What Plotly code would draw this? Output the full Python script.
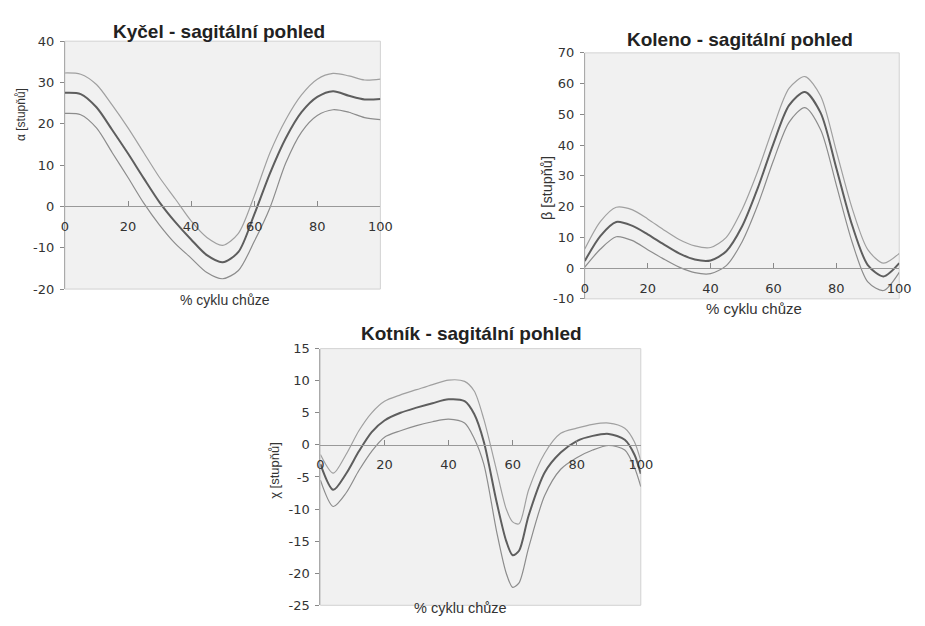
import plotly.graph_objects as go

# ---------------- data ----------------
hip_x = [0, 5, 10, 15, 20, 25, 30, 35, 40, 45, 50, 55, 60, 65, 70, 75, 80, 85, 90, 95, 100]
hip_mean = [27.5, 27.2, 24.0, 18.5, 12.8, 6.8, 1.0, -3.8, -8.0, -11.8, -13.5, -11.0, -2.0, 8.0, 16.5, 22.8, 26.5, 27.9, 26.8, 25.9, 26.0]
hip_upper = [32.3, 32.0, 29.5, 24.5, 19.0, 13.0, 7.0, 1.8, -3.5, -7.5, -9.4, -6.5, 2.5, 13.0, 21.0, 27.0, 30.8, 32.2, 31.6, 30.6, 30.8]
hip_lower = [22.5, 22.2, 19.0, 13.0, 7.0, 0.8, -4.5, -9.0, -12.5, -16.0, -17.5, -15.5, -8.5, -0.3, 10.5, 18.0, 22.0, 23.4, 22.8, 21.5, 21.0]

knee_x = [0, 5, 10, 15, 20, 25, 30, 35, 40, 45, 50, 55, 60, 65, 70, 75, 80, 85, 90, 95, 100]
knee_mean = [2.3, 10.5, 15.0, 13.8, 11.0, 7.8, 4.8, 2.8, 2.5, 5.5, 13.5, 26.0, 40.5, 53.0, 57.3, 50.5, 32.5, 14.0, 1.0, -2.7, 1.6]
knee_upper = [6.2, 15.2, 19.8, 19.0, 16.0, 12.5, 9.3, 7.2, 6.7, 10.0, 19.0, 31.5, 46.0, 58.5, 62.3, 56.0, 38.0, 19.5, 6.0, 1.6, 4.8]
knee_lower = [0.3, 6.2, 10.2, 9.0, 6.0, 3.0, 0.3, -1.5, -1.8, 0.8, 8.5, 20.5, 35.0, 47.5, 52.2, 45.0, 27.0, 8.5, -4.5, -7.3, -1.4]

ankle_x = [0, 4, 8, 12, 16, 20, 25, 30, 35, 40, 45, 48, 51, 55, 58, 60, 62, 65, 70, 75, 80, 85, 90, 95, 98, 100]
ankle_mean = [-3.0, -7.0, -4.5, -1.0, 2.0, 3.8, 5.0, 5.8, 6.5, 7.1, 6.8, 4.8, 0.5, -8.9, -15.0, -17.2, -16.5, -11.0, -4.3, -1.2, 0.6, 1.4, 1.7, 0.8, -1.5, -4.5]
ankle_upper = [-1.5, -4.4, -1.5, 2.2, 5.0, 6.8, 7.8, 8.6, 9.4, 10.1, 9.9, 8.4, 4.0, -4.0, -10.0, -12.0, -12.3, -7.0, -1.3, 1.8, 2.6, 3.2, 3.4, 2.6, 0.5, -2.5]
ankle_lower = [-5.5, -9.6, -7.5, -4.0, -1.0, 1.2, 2.2, 3.0, 3.6, 4.0, 3.4, 1.0, -3.0, -13.5, -20.0, -22.2, -21.5, -16.0, -7.9, -3.8, -2.0, -0.8, -0.1, -0.8, -3.5, -6.5]

x_ticks = [0, 20, 40, 60, 80, 100]
hip_y_ticks = [-20, -10, 0, 10, 20, 30, 40]
knee_y_ticks = [-10, 0, 10, 20, 30, 40, 50, 60, 70]
ankle_y_ticks = [-25, -20, -15, -10, -5, 0, 5, 10, 15]
titles = ["Kyčel - sagitální pohled", "Koleno - sagitální pohled", "Kotník - sagitální pohled"]
y_titles = ["α [stupňů]", "β [stupňů]", "χ [stupňů]"]
x_title = "% cyklu chůze"

# ---------------- layout geometry (pixels) ----------------
W, H = 925, 626
boxes = [(62, 383, 35, 289), (591, 911, 47, 299), (322, 648, 350, 613)]
yticks = [hip_y_ticks, knee_y_ticks, ankle_y_ticks]
title_pos = [(219, 25), (749, 33), (476, 335)]
ytitle_pos = [(18, 110), (552, 185), (275, 475)]
ytitle_size = [12, 14.5, 13]
xtitle_pos = [(225, 300), (763, 309), (465, 616)]
xtitle_size = [14, 15, 14.5]

series = [(hip_x, hip_mean, hip_upper, hip_lower),
          (knee_x, knee_mean, knee_upper, knee_lower),
          (ankle_x, ankle_mean, ankle_upper, ankle_lower)]

fig = go.Figure()
annotations = []
shapes = []

for i, ((xs, m, u, l), (x0, x1, yt, yb), yt_vals) in enumerate(zip(series, boxes, yticks)):
    n = "" if i == 0 else str(i + 1)
    xa, ya = "x" + n, "y" + n
    ymin, ymax = yt_vals[0], yt_vals[-1]
    dom_x = [x0 / W, x1 / W]
    dom_y = [1 - yb / H, 1 - yt / H]
    zero_pos = dom_y[0] + (0 - ymin) / (ymax - ymin) * (dom_y[1] - dom_y[0])
    for vals, col, wid in ((u, "#a0a0a0", 1.2), (l, "#8c8c8c", 1.2), (m, "#5e5e5e", 2.0)):
        fig.add_trace(go.Scatter(x=xs, y=vals, mode="lines", xaxis=xa, yaxis=ya,
                                 line=dict(color=col, width=wid, shape="spline", smoothing=0.8),
                                 showlegend=False, hoverinfo="skip"))
    fig.layout["xaxis" + n] = dict(domain=dom_x, range=[0, 100], anchor="free", position=zero_pos,
                                   tickvals=x_ticks, ticktext=[str(v) for v in x_ticks],
                                   ticks="inside", ticklen=5, tickcolor="#888888",
                                   showline=True, linecolor="#999999", linewidth=1, showgrid=False,
                                   zeroline=False, tickfont=dict(family="DejaVu Sans", size=13, color="#333333"),
                                   ticklabelstandoff=8, ticklabeloverflow="allow", fixedrange=True)
    fig.layout["yaxis" + n] = dict(domain=dom_y, range=[ymin, ymax], anchor=xa,
                                   tickvals=yt_vals, ticktext=[str(v) for v in yt_vals],
                                   ticks="outside", ticklen=4, tickcolor="#888888",
                                   showline=True, linecolor="#aaaaaa", linewidth=1, showgrid=False,
                                   zeroline=False, tickfont=dict(family="DejaVu Sans", size=13, color="#333333"),
                                   ticklabelstandoff=3, fixedrange=True)
    shapes.append(dict(type="rect", xref=xa + " domain", yref=ya + " domain", x0=0, x1=1, y0=0, y1=1,
                       line=dict(color="#d2d2d2", width=1), layer="below"))
    tx, ty = title_pos[i]
    annotations.append(dict(text="<b>" + titles[i] + "</b>", x=tx / W, y=1 - ty / H, xref="paper", yref="paper",
                            showarrow=False, xanchor="center", yanchor="middle",
                            font=dict(family="Liberation Sans", size=19, color="#222222")))
    yx, yy = ytitle_pos[i]
    annotations.append(dict(text=y_titles[i], x=yx / W, y=1 - yy / H, xref="paper", yref="paper",
                            showarrow=False, xanchor="center", yanchor="middle", textangle=-90,
                            font=dict(family="Liberation Sans", size=ytitle_size[i], color="#333333")))
    xx, xy = xtitle_pos[i]
    annotations.append(dict(text=x_title, x=xx / W, y=1 - xy / H, xref="paper", yref="paper",
                            showarrow=False, xanchor="center", yanchor="middle",
                            font=dict(family="Liberation Sans", size=xtitle_size[i], color="#333333")))

fig.update_layout(width=W, height=H, margin=dict(l=0, r=0, t=0, b=0),
                  paper_bgcolor="white", plot_bgcolor="#f1f1f1",
                  annotations=annotations, shapes=shapes, showlegend=False)

fig.write_html("out.html", config={"displayModeBar": False},
               post_script="document.body.style.margin='0';document.documentElement.style.overflow='hidden';document.body.style.overflow='hidden';")
